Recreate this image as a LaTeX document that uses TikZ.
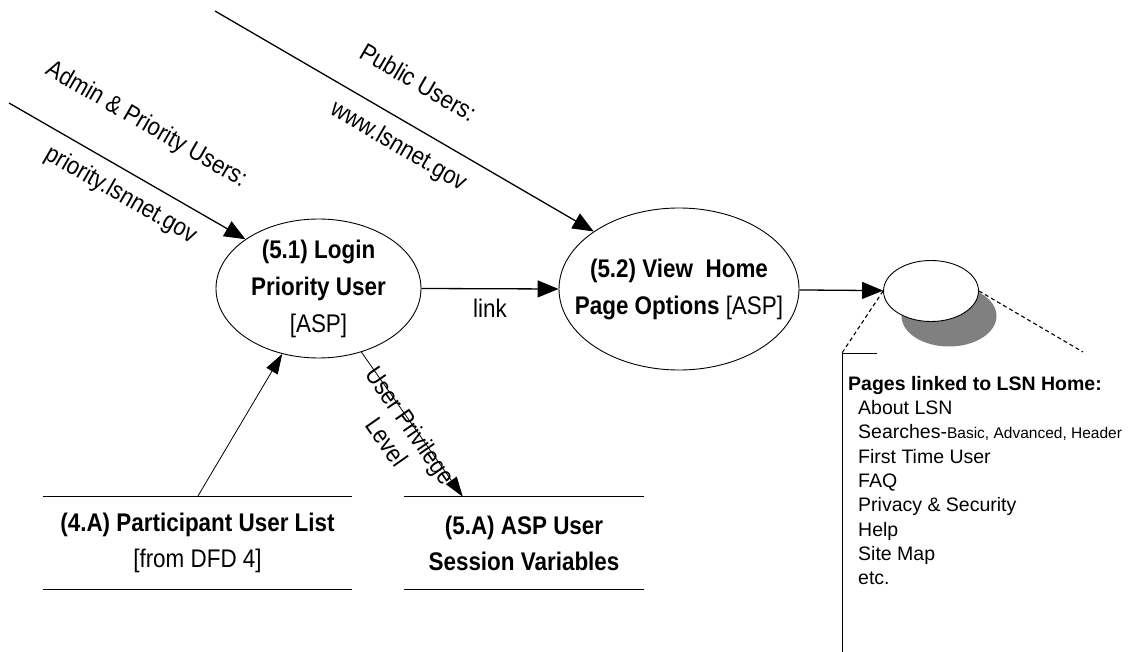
\documentclass[tikz,border=0pt]{standalone}
\usepackage{fontspec}
\setmainfont{Liberation Sans}
\newfontfamily\dfdfont[FakeStretch=0.88]{Liberation Sans}
\usetikzlibrary{positioning,arrows.meta,calc,shapes.geometric,backgrounds,shadows}
\definecolor{ink}{HTML}{000000}
\definecolor{shadowGray}{HTML}{808080}

\begin{document}
\begin{tikzpicture}[
  x=1pt, y=-1pt,
  font=\dfdfont\fontsize{25.5}{37}\selectfont,
  process/.style={
    ellipse,
    draw=ink, line width=0.9pt,
    inner sep=0pt,
    align=center,
    text=ink
  },
  store/.style={
    rectangle,
    inner sep=0pt,
    align=center,
    text=ink,
    font=\dfdfont\fontsize{25.5}{36}\selectfont
  },
  storeLine/.style={draw=ink, line width=1.2pt},
  flow/.style={
    -{Triangle[length=21pt,width=17pt]},
    line width=1.3pt,
    draw=ink
  },
  thinFlow/.style={
    -{Triangle[length=20pt,width=13pt]},
    line width=0.8pt,
    draw=ink
  },
  flowLabel/.style={
    sloped, inner sep=0pt, align=center,
    font=\dfdfont\fontsize{25}{29}\selectfont
  },
  callout/.style={
    draw=ink, line width=1.1pt,
    dash pattern=on 4pt off 3pt
  },
  panelLine/.style={draw=ink, line width=1pt},
  pageList/.style={
    anchor=north west, align=left, inner sep=0pt,
    text=ink,
    font=\rmfamily\fontsize{19.5}{24.3}\selectfont
  }
]

% Text macros for the page list
\newcommand{\pageItem}[1]{\hspace*{10pt}#1}
\newcommand{\smallItem}[1]{{\fontsize{15.5}{24.3}\selectfont #1}}

% Page frame, 1130 x 652
\useasboundingbox (0,0) rectangle (1130,652);

% Processes
\node[process, minimum width=205pt, minimum height=139pt] (p51) at (318.5,288.5) {%
  \textbf{(5.1) Login}\\\textbf{Priority User}\\{[ASP]}};
\node[process, inner xsep=-25pt, minimum width=240pt, minimum height=162pt] (p52) at (679,289) {%
  \textbf{(5.2) View\ \ Home}\\\textbf{Page Options} [ASP]};

% Home page with its shadow
\node[ellipse, draw=ink, fill=white, line width=0.9pt,
      minimum width=95pt, minimum height=61pt,
      general shadow={fill=shadowGray, shadow xshift=18pt, shadow yshift=-25pt}] (home) at (931,291) {};

% Data stores
\node[store, minimum width=309pt, minimum height=92pt] (d4A) at (197.5,543) {%
  \textbf{(4.A) Participant User List}\\{[from DFD 4]}};
\node[store, minimum width=240pt, minimum height=92pt] (d5A) at (524,543) {%
  \textbf{(5.A) ASP User}\\\textbf{Session Variables}};
\draw[storeLine] (d4A.north west) -- (d4A.north east) (d4A.south west) -- (d4A.south east);
\draw[storeLine] (d5A.north west) -- (d5A.north east) (d5A.south west) -- (d5A.south east);

% Entry points
\coordinate (adminSrc) at (9,103);
\coordinate (publicSrc) at (215,11);
\coordinate (privEnd) at ($(d5A.north west)+(59,0)$);

% Flows
\draw[flow] (adminSrc) -- (p51.146)
  node[flowLabel, pos=0.476, above=37pt] (lblAdmin) {Admin \& Priority Users:}
  node[flowLabel, pos=0.523, below=12pt] (lblAdminUrl) {priority.lsnnet.gov};
\draw[flow] (publicSrc) -- (p52.146)
  node[flowLabel, pos=0.483, above=31pt] (lblPublic) {Public Users:}
  node[flowLabel, pos=0.517, below=13pt] (lblPublicUrl) {www.lsnnet.gov};
\draw[flow] (p51.east) -- (p52.west) node[midway, below=10pt, inner sep=0pt] (lblLink) {link};
\draw[flow] (p52) -- (home);
\draw[thinFlow] (d4A.north) -- (p51.241);
\draw[thinFlow] (p51.304) -- (privEnd)
  node[flowLabel, pos=0.5, below=-8pt] (lblPriv) {User Privilege\\Level};

% Callout to the linked pages
\coordinate (panelTop) at (842,353);
\coordinate (panelTick) at (877,353);
\coordinate (panelBottom) at (842,652);
\coordinate (calloutR) at (1083,352);
\draw[callout] (home.west) -- (panelTop);
\begin{scope}[on background layer]
  \draw[callout] (home.east) -- (calloutR);
\end{scope}
\draw[panelLine] (panelTick) -- (panelTop) -- (panelBottom);

\node[pageList] (pages) at (848,376) {%
  \textbf{Pages linked to LSN Home:}\\
  \pageItem{About LSN}\\
  \pageItem{Searches-\smallItem{Basic, Advanced, Header}}\\
  \pageItem{First Time User}\\
  \pageItem{FAQ}\\
  \pageItem{Privacy \& Security}\\
  \pageItem{Help}\\
  \pageItem{Site Map}\\
  \pageItem{etc.}};

\end{tikzpicture}
\end{document}
